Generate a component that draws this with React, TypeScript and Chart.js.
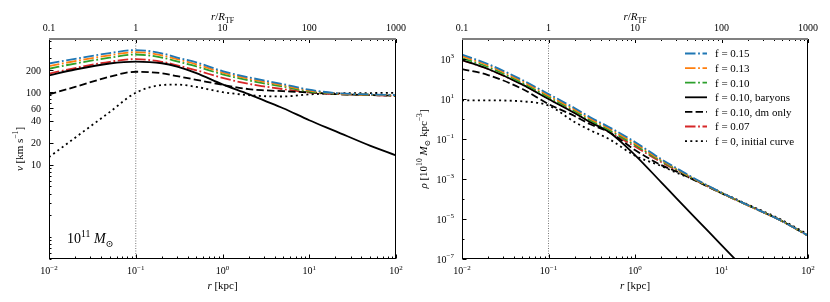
import React, { useEffect, useRef } from 'react';
import { Chart, registerables } from 'chart.js';

Chart.register(...registerables);

const FONT = '"Liberation Serif", "DejaVu Serif", serif';

// radius grid [kpc]
const R_KPC = [0.01, 0.02, 0.05, 0.1, 0.2, 0.3, 0.5, 1, 2, 3, 5, 10, 20, 50, 100];
const R_TF = 0.1; // r / R_TF = 1 marker

// left panel: v [km s^-1]
const V_F015 = [248, 288, 345, 380, 343, 300, 257, 195, 160, 145, 129, 108, 97, 93, 91];
const V_F013 = [228, 268, 322, 356, 322, 284, 242, 186, 153, 139, 124, 105, 96, 92, 90];
const V_F010 = [210, 248, 298, 330, 300, 265, 226, 176, 145, 132, 119, 102, 95, 92, 90];
const V_F010_BARYONS = [170, 205, 248, 263, 250, 225, 183, 128, 94, 77, 60, 41, 29, 18.3, 13.4];
const V_F010_DM = [93, 118, 163, 191, 182, 166, 148, 126, 110, 106, 103, 99, 94, 91, 89];
const V_F007 = [180, 215, 262, 285, 262, 234, 200, 157, 130, 120, 110, 99, 94, 91, 89];
const V_F0 = [12.7, 23.5, 53, 98, 125, 127, 118, 100, 91, 88, 87, 93, 96, 97, 98];

// right panel: rho [1e10 Msun kpc^-3]
const RHO_F015 = [1660, 562, 89, 17.8, 3.55, 1.26, 0.398, 0.0708, 0.01, 3.55e-3, 1.0e-3, 2.09e-4, 5.0e-5, 7.9e-6, 1.48e-6];
const RHO_F013 = [1410, 479, 76, 15.1, 3.02, 1.07, 0.339, 0.0603, 8.9e-3, 3.24e-3, 9.5e-4, 2.04e-4, 4.9e-5, 7.9e-6, 1.48e-6];
const RHO_F010 = [1120, 398, 63, 12.6, 2.51, 0.89, 0.282, 0.0501, 7.9e-3, 3.02e-3, 9.1e-4, 2.0e-4, 4.9e-5, 7.9e-6, 1.47e-6];
const RHO_F010_BARYONS = [891, 316, 52.5, 10, 2.0, 0.708, 0.224, 0.0158, 7.0e-4, 1.12e-4, 1.12e-5, 5.0e-7, 2.2e-8, null, null];
const RHO_F010_DM = [316, 158, 31.6, 5.6, 1.41, 0.562, 0.224, 0.0282, 5.0e-3, 2.4e-3, 8.3e-4, 1.95e-4, 5.0e-5, 7.9e-6, 1.48e-6];
const RHO_F007 = [891, 316, 52.5, 10.5, 2.09, 0.741, 0.234, 0.0417, 7.1e-3, 2.82e-3, 8.7e-4, 1.95e-4, 4.9e-5, 7.8e-6, 1.45e-6];
const RHO_F0 = [8.5, 8.5, 7.6, 4.7, 0.71, 0.282, 0.1, 0.0148, 4.5e-3, 2.1e-3, 8.7e-4, 2.1e-4, 5.4e-5, 8.9e-6, 1.66e-6];

const SERIES_LABELS = ['f = 0.15', 'f = 0.13', 'f = 0.10', 'f = 0.10, baryons', 'f = 0.10, dm only', 'f = 0.07', 'f = 0, initial curve'];

const X_TICKS = [0.01, 0.1, 1, 10, 100];
const TOP_TICKS = [0.1, 1, 10, 100, 1000];
const V_TICKS = [10, 20, 40, 60, 100, 200];
const RHO_TICKS = [1e-7, 1e-5, 1e-3, 1e-1, 1e1, 1e3];

const COLORS = ['#1f77b4', '#ff7f0e', '#2ca02c', '#000000', '#000000', '#d62728', '#000000'];
const DASHDOT = [10.5, 2.6, 1.8, 2.6];
const DASHES = [DASHDOT, DASHDOT, DASHDOT, [], [7.4, 3.2], DASHDOT, [2, 3.3]];

type Seg = { t: string; it?: boolean; sup?: boolean; sub?: boolean };

function segFont(s: Seg, size: number) {
  const sz = s.sup || s.sub ? size * 0.7 : size;
  return `${s.it ? 'italic ' : ''}${sz}px ${FONT}`;
}

function drawRich(ctx: CanvasRenderingContext2D, segs: Seg[], x: number, y: number, size: number, align: 'left' | 'center' | 'right') {
  const ws = segs.map((s) => {
    ctx.font = segFont(s, size);
    return ctx.measureText(s.t).width;
  });
  const total = ws.reduce((a, b) => a + b, 0);
  let cx = align === 'center' ? x - total / 2 : align === 'right' ? x - total : x;
  ctx.textAlign = 'left';
  ctx.textBaseline = 'alphabetic';
  segs.forEach((s, i) => {
    ctx.font = segFont(s, size);
    const dy = s.sup ? -size * 0.42 : s.sub ? size * 0.25 : 0;
    ctx.fillText(s.t, cx, y + dy);
    cx += ws[i];
  });
}

function logTickValues(min: number, max: number, subs: number[]) {
  const out: number[] = [];
  for (let n = Math.floor(Math.log10(min)) - 1; n <= Math.ceil(Math.log10(max)); n++) {
    for (const k of subs) {
      const v = k * Math.pow(10, n);
      if (v >= min * 0.9999 && v <= max * 1.0001) out.push(v);
    }
  }
  return out;
}

function expLabel(v: number): Seg[] {
  const e = Math.round(Math.log10(v));
  return [{ t: '10' }, { t: e < 0 ? '\u2212' + Math.abs(e) : String(e), sup: true }];
}

interface Spec {
  yMin: number;
  yMax: number;
  yTicks: number[];
  yLabel: (v: number) => Seg[];
  yMinorSubs: number[];
  yTitle: Seg[];
  yTitleX: number;
  leftWidth: number;
  rightPad: number;
  series: (number | null)[][];
  legend: boolean;
  note: boolean;
}

function makeChart(canvas: HTMLCanvasElement, spec: Spec) {
  const datasets: any[] = spec.series.map((arr, i) => ({
    label: SERIES_LABELS[i],
    data: R_KPC.map((r, j) => ({ x: r, y: arr[j] })),
    borderColor: COLORS[i],
    borderDash: DASHES[i],
    borderWidth: 1.8,
    borderCapStyle: 'butt',
    pointRadius: 0,
    fill: false,
    cubicInterpolationMode: 'monotone',
    spanGaps: false,
  }));
  datasets.push({
    label: 'R_TF',
    data: [
      { x: R_TF, y: spec.yMin },
      { x: R_TF, y: spec.yMax },
    ],
    borderColor: '#555555',
    borderWidth: 0.8,
    borderDash: [1, 1.5],
    pointRadius: 0,
    tension: 0,
    order: 10,
  });

  const decor = {
    id: 'decor',
    afterDraw(chart: any) {
      const ctx: CanvasRenderingContext2D = chart.ctx;
      const a = chart.chartArea;
      const xs = chart.scales.x;
      const x2 = chart.scales.x2;
      const ys = chart.scales.y;
      const L = Math.round(a.left) + 0.5;
      const Rr = Math.round(a.right) - 0.5;
      const T = a.top;
      const B = Math.round(a.bottom) - 0.5;
      const seg = (x0: number, y0: number, x1: number, y1: number) => {
        ctx.beginPath();
        ctx.moveTo(x0, y0);
        ctx.lineTo(x1, y1);
        ctx.stroke();
      };
      ctx.save();
      ctx.setLineDash([]);
      ctx.fillStyle = '#000';
      ctx.strokeStyle = '#000';
      ctx.lineWidth = 1;
      // spines
      seg(L, T, L, B + 0.5);
      seg(L - 0.5, B, Rr + 0.5, B);
      seg(Rr, T, Rr, B + 0.5);
      // bottom ticks
      logTickValues(xs.min, xs.max, [1, 2, 3, 4, 5, 6, 7, 8, 9]).forEach((v) => {
        const p = Math.round(xs.getPixelForValue(v)) + 0.5;
        const major = Math.abs(Math.log10(v) - Math.round(Math.log10(v))) < 1e-6;
        seg(p, B, p, B - (major ? 4 : 2));
      });
      // top ticks
      logTickValues(x2.min, x2.max, [1, 2, 3, 4, 5, 6, 7, 8, 9]).forEach((v) => {
        const p = Math.round(x2.getPixelForValue(v)) + 0.5;
        const major = Math.abs(Math.log10(v) - Math.round(Math.log10(v))) < 1e-6;
        seg(p, T, p, T + (major ? 4 : 2));
      });
      // left ticks
      logTickValues(ys.min, ys.max, spec.yMinorSubs).forEach((v) => {
        const p = Math.round(ys.getPixelForValue(v)) + 0.5;
        const major = spec.yTicks.some((t) => Math.abs(t - v) / t < 1e-6);
        seg(L, p, L + (major ? 4 : 2), p);
      });
      // top spine (grey)
      ctx.strokeStyle = '#808080';
      ctx.lineWidth = 2;
      seg(a.left, T, a.right, T);

      // tick labels
      ctx.fillStyle = '#000';
      X_TICKS.forEach((v) => drawRich(ctx, expLabel(v), xs.getPixelForValue(v), 274, 10, 'center'));
      TOP_TICKS.forEach((v) => drawRich(ctx, [{ t: String(v) }], x2.getPixelForValue(v), 31, 10, 'center'));
      spec.yTicks.forEach((v) => drawRich(ctx, spec.yLabel(v), a.left - 8, ys.getPixelForValue(v) + 3.5, 10, 'right'));

      // axis titles
      const cxm = (a.left + a.right) / 2;
      drawRich(ctx, [{ t: 'r', it: true }, { t: ' [kpc]' }], cxm, 289, 11, 'center');
      drawRich(ctx, [{ t: 'r', it: true }, { t: '/' }, { t: 'R', it: true }, { t: 'TF', sub: true }], cxm, 20, 11, 'center');
      ctx.save();
      ctx.translate(spec.yTitleX, (a.top + a.bottom) / 2);
      ctx.rotate(-Math.PI / 2);
      drawRich(ctx, spec.yTitle, 0, 0, 11, 'center');
      ctx.restore();

      if (spec.note) {
        drawRich(ctx, [{ t: '10' }, { t: '11', sup: true }, { t: ' ' }, { t: 'M', it: true }, { t: '\u2299', sub: true }], a.left + 18, 243, 14, 'left');
      }

      if (spec.legend) {
        const x0 = a.right - 123;
        const y0 = 53.5;
        const dy = 14.6;
        chart.data.datasets.slice(0, SERIES_LABELS.length).forEach((ds: any, i: number) => {
          const y = y0 + i * dy;
          ctx.strokeStyle = ds.borderColor;
          ctx.lineWidth = ds.borderWidth;
          ctx.lineCap = 'butt';
          ctx.setLineDash(ds.borderDash || []);
          seg(x0, y, x0 + 22, y);
          ctx.setLineDash([]);
          drawRich(ctx, [{ t: ds.label }], x0 + 30, y + 3.8, 11, 'left');
        });
      }
      ctx.restore();
    },
  };

  return new Chart(canvas, {
    type: 'line',
    data: { datasets },
    options: {
      animation: false,
      responsive: false,
      devicePixelRatio: 1,
      layout: { padding: { left: 0, right: spec.rightPad, top: 0, bottom: 0 } },
      plugins: { legend: { display: false }, tooltip: { enabled: false } },
      scales: {
        x: {
          type: 'logarithmic',
          position: 'bottom',
          min: 0.01,
          max: 100,
          grid: { display: false },
          border: { display: false },
          ticks: { display: false },
          afterFit: (s: any) => {
            s.height = 43;
          },
        },
        x2: {
          type: 'logarithmic',
          position: 'top',
          min: 0.1,
          max: 1000,
          grid: { display: false },
          border: { display: false },
          ticks: { display: false },
          afterFit: (s: any) => {
            s.height = 39;
          },
        },
        y: {
          type: 'logarithmic',
          min: spec.yMin,
          max: spec.yMax,
          grid: { display: false },
          border: { display: false },
          ticks: { display: false },
          afterFit: (s: any) => {
            s.width = spec.leftWidth;
          },
        },
      },
    } as any,
    plugins: [decor],
  });
}

export default function App() {
  const leftRef = useRef<HTMLCanvasElement>(null);
  const rightRef = useRef<HTMLCanvasElement>(null);

  useEffect(() => {
    const c1 = makeChart(leftRef.current!, {
      yMin: 0.5,
      yMax: 540,
      yTicks: V_TICKS,
      yLabel: (v) => [{ t: String(v) }],
      yMinorSubs: [1, 2, 3, 4, 5, 6, 7, 8, 9],
      yTitle: [{ t: 'v', it: true }, { t: ' [km s' }, { t: '\u22121', sup: true }, { t: ']' }],
      yTitleX: 23,
      leftWidth: 49,
      rightPad: 19,
      series: [V_F015, V_F013, V_F010, V_F010_BARYONS, V_F010_DM, V_F007, V_F0],
      legend: false,
      note: true,
    });
    const c2 = makeChart(rightRef.current!, {
      yMin: 1e-7,
      yMax: 1e4,
      yTicks: RHO_TICKS,
      yLabel: expLabel,
      yMinorSubs: [1],
      yTitle: [
        { t: '\u03c1', it: true },
        { t: ' [10' },
        { t: '10', sup: true },
        { t: ' ' },
        { t: 'M', it: true },
        { t: '\u2299', sub: true },
        { t: ' kpc' },
        { t: '\u22123', sup: true },
        { t: ']' },
      ],
      yTitleX: 12,
      leftWidth: 47,
      rightPad: 22,
      series: [RHO_F015, RHO_F013, RHO_F010, RHO_F010_BARYONS, RHO_F010_DM, RHO_F007, RHO_F0],
      legend: true,
      note: false,
    });
    return () => {
      c1.destroy();
      c2.destroy();
    };
  }, []);

  return (
    <div style={{ position: 'fixed', left: 0, top: 0, width: 830, height: 302, background: '#ffffff' }}>
      <canvas ref={leftRef} width={415} height={302} style={{ position: 'absolute', left: 0, top: 0, width: 415, height: 302 }} />
      <canvas ref={rightRef} width={415} height={302} style={{ position: 'absolute', left: 415, top: 0, width: 415, height: 302 }} />
    </div>
  );
}
